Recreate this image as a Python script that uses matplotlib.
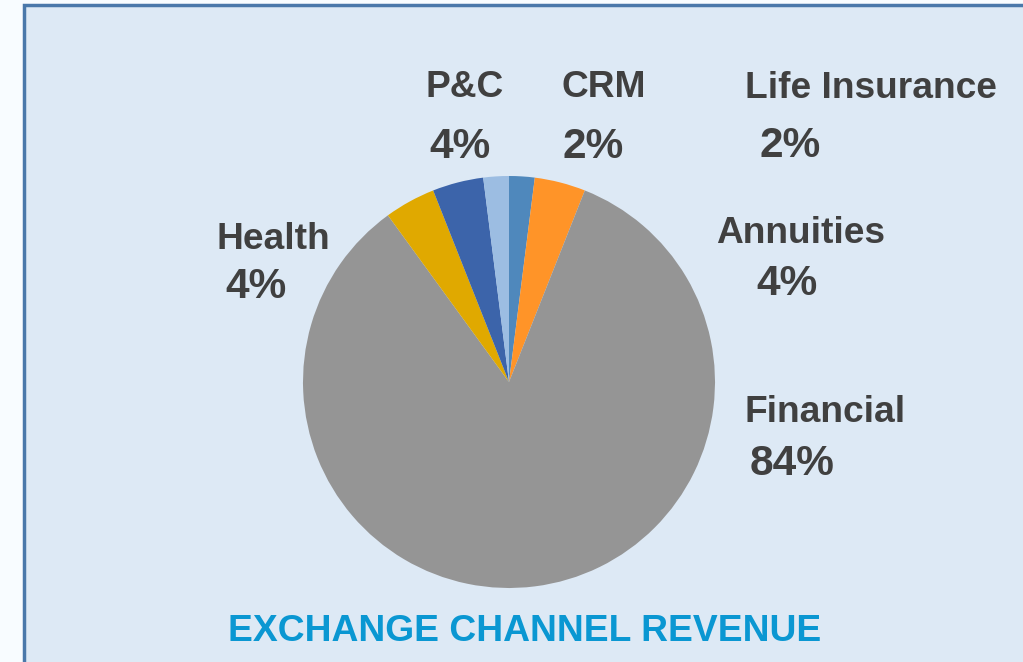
import matplotlib
matplotlib.use("Agg")
import matplotlib.pyplot as plt
from matplotlib.patches import Rectangle

# === Data (clockwise from 12 o'clock) ===
categories = ["Life Insurance", "Annuities", "Financial", "Health", "P&C", "CRM"]
shares = [2, 4, 84, 4, 4, 2]          # percent
colors = ["#4F88BC", "#FF9428", "#959595", "#E0A900", "#3C64AA", "#9CBDE2"]

# label layout in pixels from top-left: (name x centre, name baseline, pct x centre, pct baseline)
label_pos = {
    "Life Insurance": (871, 98, 790, 157),
    "Annuities":      (801, 243, 787, 295),
    "Financial":      (825, 422, 792, 475),
    "Health":         (273, 249, 256, 298),
    "P&C":            (465, 97, 460, 158),
    "CRM":            (604, 97, 593, 158),
}

W, H = 1023, 662
cx, cy, R = 509, 382, 206   # pie centre and radius in pixels

plt.rcParams["font.family"] = ["Liberation Sans", "DejaVu Sans"]
fig = plt.figure(figsize=(W / 100, H / 100), dpi=100, facecolor="#F8FCFF")

# panel with border
fig.patches.append(Rectangle((24 / W, -0.05), 1.2, (H - 5) / H + 0.05,
                             transform=fig.transFigure, facecolor="#DDE9F5",
                             edgecolor="#4A78AA", linewidth=2.5, zorder=-1))

ax = fig.add_axes([0, 0, 1, 1])
ax.set_facecolor("none")
ax.pie(shares, colors=colors, startangle=90, counterclock=False,
       center=(cx, H - cy), radius=R, wedgeprops=dict(linewidth=0), frame=False)
ax.set_xlim(0, W)
ax.set_ylim(0, H)
ax.set_aspect("auto")
ax.axis("off")

txt_color = "#404040"
for cat, val in zip(categories, shares):
    nx, ny, px, py = label_pos[cat]
    ax.text(nx, H - ny, cat, ha="center", va="baseline", fontsize=26.7,
            fontweight="bold", color=txt_color)
    ax.text(px, H - py, f"{val}%", ha="center", va="baseline", fontsize=30.5,
            fontweight="bold", color=txt_color)

ax.text(525, H - 641, "EXCHANGE CHANNEL REVENUE", ha="center",
        va="baseline", fontsize=26.8, fontweight="bold", color="#0A97D2")

fig.savefig("out.png", dpi=100, facecolor=fig.get_facecolor())
